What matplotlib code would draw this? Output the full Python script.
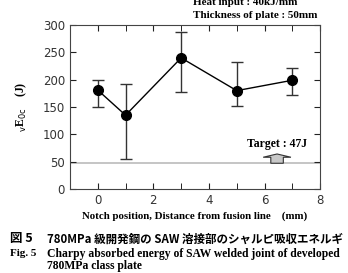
import matplotlib.pyplot as plt
import numpy as np

# notch position (mm) and absorbed energy (J)
pos = [0, 1, 3, 5, 7]
energy = [181, 135, 240, 180, 199]
err_low = [150, 55, 178, 152, 172]
err_high = [199, 193, 288, 233, 222]
target = 47

plt.rcParams['font.family'] = ['DejaVu Sans']
serif = ['Liberation Serif', 'DejaVu Serif']
cjk = ['Noto Sans CJK JP', 'Liberation Serif']

fig = plt.figure(figsize=(3.48, 2.73), dpi=100)
ax = fig.add_axes([0.201, 0.308, 0.719, 0.6])

yerr = [np.array(energy) - np.array(err_low), np.array(err_high) - np.array(energy)]
ax.errorbar(pos, energy, yerr=yerr, fmt='none', ecolor='#333333', elinewidth=1.0,
            capsize=4, capthick=1.0, zorder=2)
ax.plot(pos, energy, color='black', lw=1.0, marker='o', ms=7, zorder=3)

ax.axhline(target, color='#bbbbbb', lw=1.2, zorder=1)
# target arrow
ax.arrow(6.45, target, 0, 64 - target, width=0.45, head_width=1.0, head_length=6,
         length_includes_head=True, fc='#c8c8c8', ec='#333333', lw=0.8, zorder=2)
ax.text(6.45, 82, 'Target : 47J', ha='center', va='center', fontsize=8.5,
        fontweight='bold', family=serif)

ax.set_xlim(-1, 8)
ax.set_ylim(0, 300)
ax.set_xticks([0, 2, 4, 6, 8])
ax.set_xticks([-1, 1, 3, 5, 7], minor=True)
ax.set_yticks([0, 50, 100, 150, 200, 250, 300])
ax.tick_params(direction='in', top=True, right=True, labelsize=8.5, length=4,
               colors='#222222', labelcolor='#333333')
ax.tick_params(which='minor', direction='in', top=True, length=4)
for s in ax.spines.values():
    s.set_color('#444444')

ax.set_xlabel('Notch position, Distance from fusion line    (mm)', fontsize=7.8,
              fontweight='bold', family=serif, labelpad=3)
ax.set_ylabel(r'$_{\mathrm{v}}$E$_{\mathrm{0c}}$    (J)', fontsize=8.5,
              fontweight='bold', family=serif, labelpad=10)

fig.text(0.555, 0.99, 'Heat input : 40kJ/mm', fontsize=8, fontweight='bold',
         family=serif, va='center')
fig.text(0.555, 0.945, 'Thickness of plate : 50mm', fontsize=8, fontweight='bold',
         family=serif, va='center')

fig.text(0.03, 0.125, '図 5', fontsize=9, fontweight='bold', family=cjk, va='center')
fig.text(0.135, 0.125, '780MPa 級開発鋼の SAW 溶接部のシャルピ吸収エネルギ', fontsize=8.3,
         fontweight='bold', family=cjk, va='center')
fig.text(0.03, 0.07, 'Fig. 5', fontsize=8, fontweight='bold', family=serif, va='center')
fig.text(0.135, 0.07, 'Charpy absorbed energy of SAW welded joint of developed',
         fontsize=8.4, fontweight='bold', family=serif, va='center')
fig.text(0.135, 0.025, '780MPa class plate', fontsize=8.4, fontweight='bold',
         family=serif, va='center')

fig.savefig('out.png', dpi=100)
